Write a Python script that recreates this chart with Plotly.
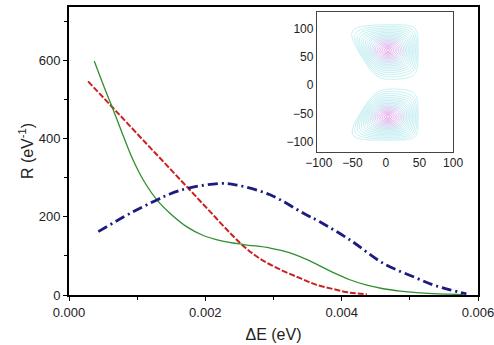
import numpy as np
import plotly.graph_objects as go

# ---- main curves ----
green_x = [0.00037, 0.00055, 0.00065, 0.00080, 0.00094, 0.00109, 0.00129, 0.00148, 0.00173, 0.00197,
           0.00222, 0.00256, 0.00295, 0.00322, 0.00339, 0.00363, 0.00388, 0.00412, 0.00437, 0.00461,
           0.00486, 0.00510, 0.00534, 0.00559, 0.00578]
green_y = [598, 516, 473, 405, 345, 294, 243, 209, 174, 152,
           139, 129, 120, 109, 98, 79, 57, 39, 25, 16,
           10, 6, 3.5, 2, 1]

red_x = [0.00028, 0.00070, 0.00114, 0.00148, 0.00177, 0.00207, 0.00236, 0.00258, 0.00280, 0.00310,
         0.00339, 0.00363, 0.00388, 0.00412, 0.00437]
red_y = [546, 468, 386, 323, 269, 213, 159, 122, 93, 65,
         43, 26, 15, 6, 2]

blue_x = [0.00043, 0.00090, 0.00129, 0.00148, 0.00175, 0.00222, 0.00246, 0.00295, 0.00344, 0.00368,
          0.00412, 0.00461, 0.00510, 0.00534, 0.00559, 0.00583]
blue_y = [162, 209, 243, 258, 273, 285, 281, 256, 209, 187,
          141, 81, 43, 26, 13, 3]

x_ticks = [0.000, 0.002, 0.004, 0.006]
y_ticks = [0, 200, 400, 600]
inset_ticks = [-100, -50, 0, 50, 100]

# ---- inset lobes: centre, core radii and boundary polygon (estimated) ----
upper_center = (3, 62)
upper_core = (55, 42)
upper_poly = [(-13, 4), (50, 6), (50, 111), (-64, 109), (-64, 97)]
lower_center = (3, -56)
lower_core = (55, 40)
lower_poly = [(-13, -1), (50, -1), (50, -100), (-62, -100), (-62, -86)]


def gauge(X, Y, center, poly, k=6):
    cx, cy = center
    n = len(poly)
    acc = np.zeros_like(X)
    for i in range(n):
        (x1, y1), (x2, y2) = poly[i], poly[(i + 1) % n]
        ex, ey = x2 - x1, y2 - y1
        nx, ny = ey, -ex
        if nx * (x1 - cx) + ny * (y1 - cy) < 0:
            nx, ny = -nx, -ny
        d = nx * (x1 - cx) + ny * (y1 - cy)
        s = (nx * (X - cx) + ny * (Y - cy)) / d
        acc += np.clip(s, 0, None) ** k
    return acc ** (1.0 / k)


def lobe(X, Y, center, core, poly):
    gp = gauge(X, Y, center, poly)
    ge = np.sqrt(((X - center[0]) / core[0]) ** 2 + ((Y - center[1]) / core[1]) ** 2)
    t = np.clip(gp, 0, 1) ** 1.5
    return t * gp + (1 - t) * ge


gx = np.linspace(-100, 100, 241)
gy = np.linspace(-118, 130, 301)
GX, GY = np.meshgrid(gx, gy)
g = np.minimum(lobe(GX, GY, upper_center, upper_core, upper_poly),
               lobe(GX, GY, lower_center, lower_core, lower_poly))
Z = 1.0 - g
Z[g > 1.0] = np.nan

fig = go.Figure()

fig.add_trace(go.Scatter(x=red_x, y=red_y, mode="lines", line_shape="spline",
                         line=dict(color="#cc2020", width=2, dash="6px,2px"), showlegend=False))
fig.add_trace(go.Scatter(x=green_x, y=green_y, mode="lines", line_shape="spline",
                         line=dict(color="#2f8f2f", width=1.3), showlegend=False))
fig.add_trace(go.Scatter(x=blue_x, y=blue_y, mode="lines", line_shape="spline",
                         line=dict(color="#1c1c80", width=2.8, dash="10px,4px,2px,4px"), showlegend=False))

fig.add_trace(go.Contour(x=gx, y=gy, z=Z, xaxis="x2", yaxis="y2",
                         contours=dict(coloring="lines", start=0.0, end=0.98, size=0.05),
                         line=dict(width=0.7),
                         colorscale=[[0, "#9a9a9a"], [0.04, "#a8e8ec"], [0.45, "#a0e0e8"],
                                     [0.75, "#d0a8ea"], [1, "#e070e0"]],
                         showscale=False, hoverinfo="skip"))

font = "Liberation Sans, Arial, sans-serif"
fig.update_layout(
    width=494, height=345,
    margin=dict(l=69, r=16, t=7, b=50),
    plot_bgcolor="white", paper_bgcolor="white",
    font=dict(family=font, size=13, color="#222"),
    xaxis=dict(range=[0, 0.006], tickvals=x_ticks, tickformat=".3f", automargin=False,
               ticklabeloverflow="allow",
               showgrid=False, zeroline=False, showline=True, linecolor="black", linewidth=1.8,
               mirror=True, ticks="outside", ticklen=4, tickcolor="black",
               minor=dict(dtick=0.001, ticks="outside", ticklen=3, tickcolor="black"),
               title=dict(text="ΔE (eV)", standoff=10)),
    yaxis=dict(range=[0, 736], tickvals=y_ticks, automargin=False,
               showgrid=False, zeroline=False, showline=True, linecolor="black", linewidth=1.8,
               mirror=True, ticks="outside", ticklen=4, tickcolor="black",
               minor=dict(dtick=100, ticks="outside", ticklen=3, tickcolor="black"),
               title=dict(text="R (eV<sup>-1</sup>)", standoff=1)),
    xaxis2=dict(domain=[0.606, 0.939], anchor="y2", range=[-103, 100], tickvals=inset_ticks,
                showgrid=False, zeroline=False, showline=True, linecolor="#444", linewidth=1,
                mirror=True, ticks="", tickfont=dict(size=12)),
    yaxis2=dict(domain=[0.497, 0.983], anchor="x2", range=[-118, 130], tickvals=inset_ticks,
                showgrid=False, zeroline=False, showline=True, linecolor="#444", linewidth=1,
                mirror=True, ticks="", tickfont=dict(size=12)),
)

fig.write_html("out.html")
